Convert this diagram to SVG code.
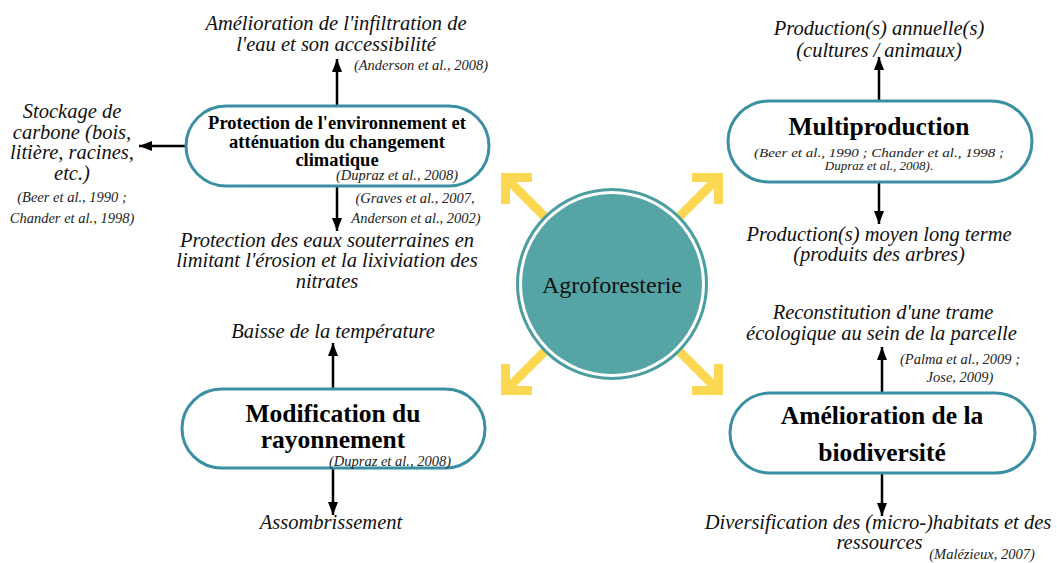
<svg xmlns="http://www.w3.org/2000/svg" width="1057" height="563" viewBox="0 0 1057 563">
<defs>
<marker id="ah" markerUnits="userSpaceOnUse" markerWidth="14" markerHeight="12" refX="13" refY="5" orient="auto">
<path d="M0,0 L13,5 L0,10 z" fill="#000"/>
</marker>
<path id="ya" d="M-80,-106.5 H-106.5 V-80 M-106.5,-106.5 L-50,-50" fill="none" stroke="#fcd852" stroke-width="9" stroke-linejoin="miter"/>
</defs>
<style>
.pill{fill:#fff;stroke:#3b8fa2;stroke-width:3}
.lbl{font-family:"Liberation Serif","Times New Roman",serif;font-style:italic;font-size:20.5px;fill:#111;text-anchor:middle}
.cit{font-family:"Liberation Serif","Times New Roman",serif;font-style:italic;font-size:14.5px;fill:#222;text-anchor:middle}
.cs{font-size:13px}
.t1{font-family:"Liberation Serif","Times New Roman",serif;font-weight:bold;font-size:18.5px;fill:#000;text-anchor:middle}
.t2{font-family:"Liberation Serif","Times New Roman",serif;font-weight:bold;font-size:25.5px;fill:#000;text-anchor:middle}
.con{stroke:#000;stroke-width:2.5;fill:none;marker-end:url(#ah)}
</style>
<rect width="1057" height="563" fill="#fff"/>

<g id="connectors">
<line class="con" x1="337" y1="106" x2="337" y2="59"/>
<line class="con" x1="186" y1="146" x2="139" y2="146"/>
<line class="con" x1="337" y1="186" x2="337" y2="231"/>
<line class="con" x1="879" y1="101" x2="879" y2="57"/>
<line class="con" x1="879" y1="182" x2="879" y2="224"/>
<line class="con" x1="333" y1="389" x2="333" y2="343"/>
<line class="con" x1="333" y1="468" x2="333" y2="515"/>
<line class="con" x1="882" y1="393" x2="882" y2="347"/>
<line class="con" x1="882" y1="473" x2="882" y2="516"/>
<g transform="translate(612,284)">
<use href="#ya"/>
<use href="#ya" transform="rotate(90)"/>
<use href="#ya" transform="rotate(180)"/>
<use href="#ya" transform="rotate(270)"/>
</g>
</g>

<g id="center">
<circle cx="612" cy="284" r="94.5" fill="#fff" stroke="#4a9e9f" stroke-width="3"/>
<circle cx="612" cy="284" r="90" fill="#56a5a6"/>
<text x="612" y="293" font-family="Liberation Serif, Times New Roman, serif" font-size="24" fill="#111" text-anchor="middle">Agroforesterie</text>
</g>

<g id="node-env">
<rect class="pill" x="186" y="106" width="303" height="80" rx="40"/>
<text class="t1" x="337" y="129">Protection de l'environnement et</text>
<text class="t1" x="337" y="147.5">atténuation du changement</text>
<text class="t1" x="337" y="165.5">climatique</text>
<text class="cit" x="397" y="180">(Dupraz et al., 2008)</text>
</g>
<g id="lbl-infiltration">
<text class="lbl" x="336" y="30">Amélioration de l'infiltration de</text>
<text class="lbl" x="336" y="51">l'eau et son accessibilité</text>
<text class="cit" x="421" y="70">(Anderson et al., 2008)</text>
</g>
<g id="lbl-carbone">
<text class="lbl" x="72" y="118">Stockage de</text>
<text class="lbl" x="72" y="138.5">carbone (bois,</text>
<text class="lbl" x="72" y="159">litière, racines,</text>
<text class="lbl" x="72" y="179.5">etc.)</text>
<text class="cit" x="72" y="202">(Beer et al., 1990 ;</text>
<text class="cit" x="72" y="223">Chander et al., 1998)</text>
</g>
<g id="lbl-eaux">
<text class="cit" x="415" y="203">(Graves et al., 2007,</text>
<text class="cit" x="416" y="223">Anderson et al., 2002)</text>
<text class="lbl" x="327" y="246.5">Protection des eaux souterraines en</text>
<text class="lbl" x="327" y="267">limitant l'érosion et la lixiviation des</text>
<text class="lbl" x="327" y="287.5">nitrates</text>
</g>

<g id="node-multi">
<rect class="pill" x="728" y="101" width="304" height="81" rx="40.5"/>
<text class="t2" x="879" y="135">Multiproduction</text>
<text class="cit cs" x="879" y="157" textLength="250" lengthAdjust="spacingAndGlyphs">(Beer et al., 1990 ; Chander et al., 1998 ;</text>
<text class="cit cs" x="879" y="170">Dupraz et al., 2008).</text>
</g>
<g id="lbl-annuelle">
<text class="lbl" x="879" y="35">Production(s) annuelle(s)</text>
<text class="lbl" x="879" y="57">(cultures / animaux)</text>
</g>
<g id="lbl-moyen">
<text class="lbl" x="879" y="241">Production(s) moyen long terme</text>
<text class="lbl" x="879" y="261">(produits des arbres)</text>
</g>

<g id="node-rayon">
<rect class="pill" x="182" y="389" width="303" height="79" rx="39.5"/>
<text class="t2" x="333" y="421.5">Modification du</text>
<text class="t2" x="333" y="448">rayonnement</text>
<text class="cit" x="390" y="466">(Dupraz et al., 2008)</text>
</g>
<g id="lbl-temp">
<text class="lbl" x="333" y="338">Baisse de la température</text>
</g>
<g id="lbl-assomb">
<text class="lbl" x="331" y="529">Assombrissement</text>
</g>

<g id="node-bio">
<rect class="pill" x="730" y="393" width="305" height="80" rx="40"/>
<text class="t2" x="882" y="424">Amélioration de la</text>
<text class="t2" x="882" y="460.5">biodiversité</text>
</g>
<g id="lbl-trame">
<text class="lbl" x="883" y="319">Reconstitution d'une trame</text>
<text class="lbl" x="881.5" y="340">écologique au sein de la parcelle</text>
<text class="cit" x="960" y="364">(Palma et al., 2009 ;</text>
<text class="cit" x="960" y="382">Jose, 2009)</text>
</g>
<g id="lbl-habitats">
<text class="lbl" x="878" y="529">Diversification des (micro-)habitats et des</text>
<text class="lbl" x="879.5" y="549">ressources</text>
<text class="cit" x="982" y="559">(Malézieux, 2007)</text>
</g>
</svg>
